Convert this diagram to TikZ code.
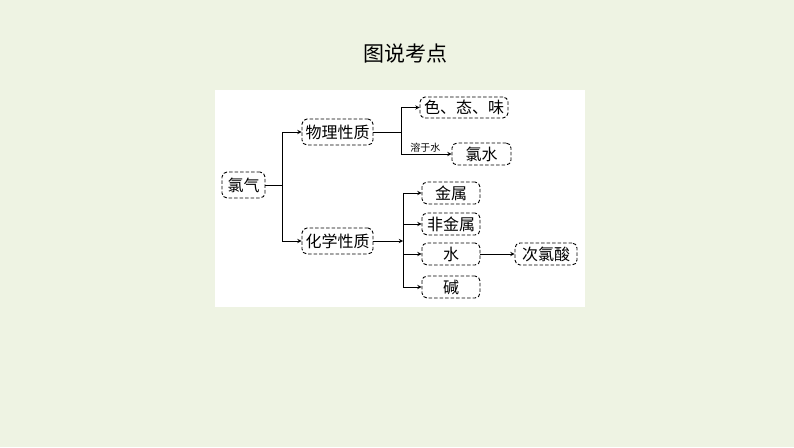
\documentclass[tikz,border=0pt]{standalone}
\usepackage{fontspec}
\newfontfamily\cjk{Noto Sans CJK SC}
\usetikzlibrary{positioning,arrows}
\definecolor{bgcol}{HTML}{EEF3E3}

\begin{document}
\begin{tikzpicture}[x=1pt,y=1pt,line width=0.9pt,
	box/.style={draw,dashed,dash pattern=on 3.5pt off 2pt,rounded corners=5pt,
		font=\cjk\fontsize{16}{16}\selectfont,inner xsep=2pt,inner ysep=0pt,
		minimum height=22pt},
	lab/.style={font=\cjk\fontsize{10}{10}\selectfont,inner sep=1pt}]
		\useasboundingbox (0,0) rectangle (794,447);
		\fill[bgcol] (0,0) rectangle (794,447);
		\fill[white] (215,140) rectangle (585,357);
		\node[font=\cjk\fontsize{21}{21}\selectfont] (title) at (405,393) {图说考点};
		% nodes
		\node[box,minimum width=43pt,minimum height=26pt] (cl) at (243.5,262) {氯气};
		\node[box,minimum width=71pt,minimum height=26pt] (wl) at (337.5,315) {物理性质};
		\node[box,minimum width=71pt,minimum height=26pt] (hx) at (337.5,206) {化学性质};
		\node[box,minimum width=88pt,minimum height=21pt] (sw) at (464,339.5) {色、态、味};
		\node[box,minimum width=59pt] (ls) at (481.5,293) {氯水};
		\node[box,minimum width=58pt] (js) at (451,254) {金属};
		\node[box,minimum width=58pt] (fjs) at (451,223) {非金属};
		\node[box,minimum width=58pt] (sh) at (451,193) {水};
		\node[box,minimum width=58pt] (jian) at (451,160) {碱};
		\node[box,minimum width=62pt] (cls) at (546,193) {次氯酸};
		% branch points
		\coordinate (b1) at (282,262);
		\coordinate (b2) at (401,315);
		\coordinate (b3) at (403,206);
		% connectors
		\draw (cl.east) -- (b1);
		\draw[-stealth] (b1) |- (wl.west);
		\draw[-stealth] (b1) |- (hx.west);
		\draw (wl.east) -- (b2);
		\draw[-stealth] (b2) |- (sw.west);
		\draw[-stealth] (b2) |- (ls.west) node[lab,pos=0.74,above] {溶于水};
		\draw[-stealth] (hx.east) -- (b3);
		\draw (b3 |- js.west) -- (b3 |- jian.west);
		\path[-stealth]
		(b3 |- js.west) edge (js.west)
		(b3 |- fjs.west) edge (fjs.west)
		(b3 |- sh.west) edge (sh.west)
		(b3 |- jian.west) edge (jian.west)
		(sh.east) edge (cls.west);
	\end{tikzpicture}
\end{document}
